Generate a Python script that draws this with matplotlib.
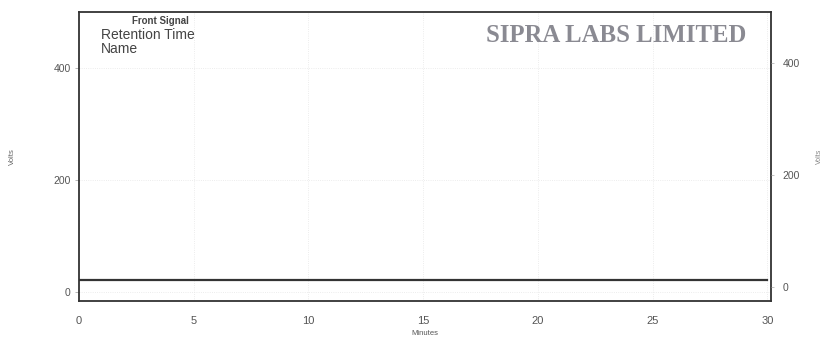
import numpy as np
import matplotlib.pyplot as plt

plt.rcParams['font.family'] = ['Liberation Sans', 'DejaVu Sans']

# chromatogram trace (flat baseline)
minutes = [0, 5, 10, 15, 20, 25, 30]
volts = [21, 21, 21, 21, 21, 21, 21]

x_ticks = [0, 5, 10, 15, 20, 25, 30]
y_ticks = [0, 200, 400]

fig = plt.figure(figsize=(8.28, 3.37), dpi=100)
ax = fig.add_axes([0.0954, 0.1068, 0.836, 0.8576])

ax.plot(minutes, volts, color='#333333', lw=1.6)
ax.set_xlim(0, 30.17)
ax.set_ylim(-16, 500)

ax.set_xticks(x_ticks)
ax.set_yticks(y_ticks)
ax.tick_params(axis='x', length=0, pad=11, labelsize=8, labelcolor='#555555')
ax.tick_params(axis='y', length=3, width=0.6, color='#aaaaaa', pad=3, labelsize=7.5, labelcolor='#555555')
ax.grid(True, color='#e6e6e6', lw=0.6, ls=':')

for s in ['left', 'right', 'top', 'bottom']:
    ax.spines[s].set_color('#333333')
    ax.spines[s].set_linewidth(1.3)

ax.set_xlabel('Minutes', fontsize=5.5, color='#555555', labelpad=3)
ax.set_ylabel('Volts', fontsize=5.5, color='#666666', labelpad=27)

ax2 = ax.twinx()
ax2.set_ylim(-25, 491)
ax2.set_yticks(y_ticks)
ax2.tick_params(axis='y', length=2, width=0.5, color='#aaaaaa', pad=6, labelsize=7.5, labelcolor='#555555')
ax2.set_ylabel('Volts', fontsize=5, color='#888888', labelpad=12)
for s in ax2.spines.values():
    s.set_visible(False)

ax.text(0.077, 0.985, 'Front Signal', transform=ax.transAxes, fontsize=7,
        fontweight='bold', color='#444444', va='top')
ax.text(0.032, 0.945, 'Retention Time', transform=ax.transAxes, fontsize=10,
        color='#444444', va='top')
ax.text(0.032, 0.897, 'Name', transform=ax.transAxes, fontsize=10,
        color='#444444', va='top')
ax.text(0.964, 0.958, 'SIPRA LABS LIMITED', transform=ax.transAxes, fontsize=17.8,
        family='Liberation Serif', fontweight='bold', color='#8a8a92', ha='right', va='top')

fig.savefig('out.png', dpi=100)
